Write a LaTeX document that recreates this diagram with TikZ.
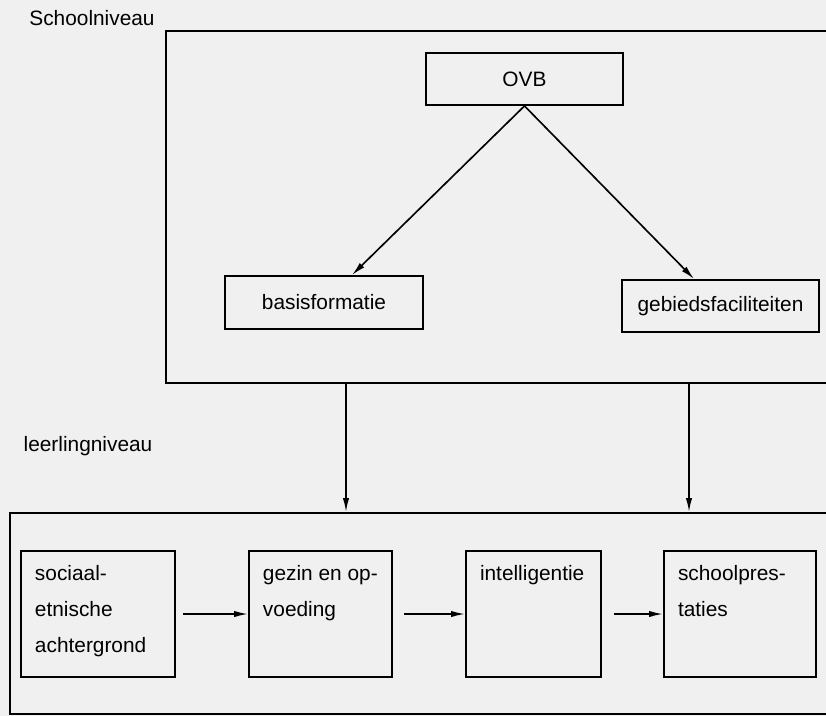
\documentclass[tikz,border=0pt]{standalone}
\usepackage{fontspec}
\setmainfont{Liberation Sans}
\usepackage{xcolor}
\usetikzlibrary{arrows.meta}

\definecolor{paper}{RGB}{240,240,240}
\newcommand{\toplines}[2]{\parbox[c][2.94cm][t]{#1}{\raggedright #2}}

\begin{document}
\begin{tikzpicture}[x=0.03cm,y=-0.03cm,
		every node/.style={font=\fontsize{17.8}{31.1}\selectfont},
		frame/.style={draw=black,line width=1.6pt,inner sep=0pt},
		unit/.style={draw=black,line width=1.6pt,inner sep=0pt},
		cell/.style={draw=black,line width=1.6pt,inner sep=0.42cm},
		link/.style={->,line width=1.4pt},
		>={Latex[length=0.42cm,width=0.19cm]}]
			\path[use as bounding box,fill=paper] (0,0) rectangle (826,716);
			\clip (0,0) rectangle (826,716);

			%% levels
			\node[frame,minimum width=20.22cm,minimum height=10.56cm] (school) at (503,207) {};
			\node[frame,minimum width=24.9cm,minimum height=6.03cm] (leerling) at (425,613.5) {};
			\node (schoollab) at (92,18) {Schoolniveau};
			\node (leerlinglab) at (88,446) {leerlingniveau};

			%% school
			\node[unit,minimum width=5.91cm,minimum height=1.56cm] (ovb) at (524.5,79) {OVB};
			\node[unit,minimum width=5.94cm,minimum height=1.59cm] (basis) at (324,302.5) {basisformatie};
			\node[unit,minimum width=5.91cm,minimum height=1.56cm] (gebied) at (720.5,306) {gebiedsfaciliteiten};

			%% pupil
			\node[cell] (sociaal) at (98,614) {\toplines{3.78cm}{sociaal-\\etnische\\achtergrond}};
			\node[cell] (gezin) at (320.5,614) {\toplines{3.45cm}{gezin~en~op-\\voeding}};
			\node[cell] (intel) at (533.5,614) {\toplines{3.21cm}{intelligentie}};
			\node[cell] (prest) at (740,614) {\toplines{3.72cm}{schoolpres-\\taties}};

			\coordinate (dropL) at (346,0);
			\coordinate (dropR) at (689,0);

			%% lines
			\draw[link] (ovb.south) -- (basis);
			\draw[link] (ovb.south) -- (gebied);
			\draw[link] (school.south -| dropL) -- (leerling.north -| dropL);
			\draw[link] (school.south -| dropR) -- (leerling.north -| dropR);
			\draw[link, shorten <=0.22cm] (sociaal) -- (gezin);
			\draw[link, shorten <=0.33cm] (gezin) -- (intel);
			\draw[link, shorten <=0.36cm] (intel) -- (prest);
\end{tikzpicture}
\end{document}
